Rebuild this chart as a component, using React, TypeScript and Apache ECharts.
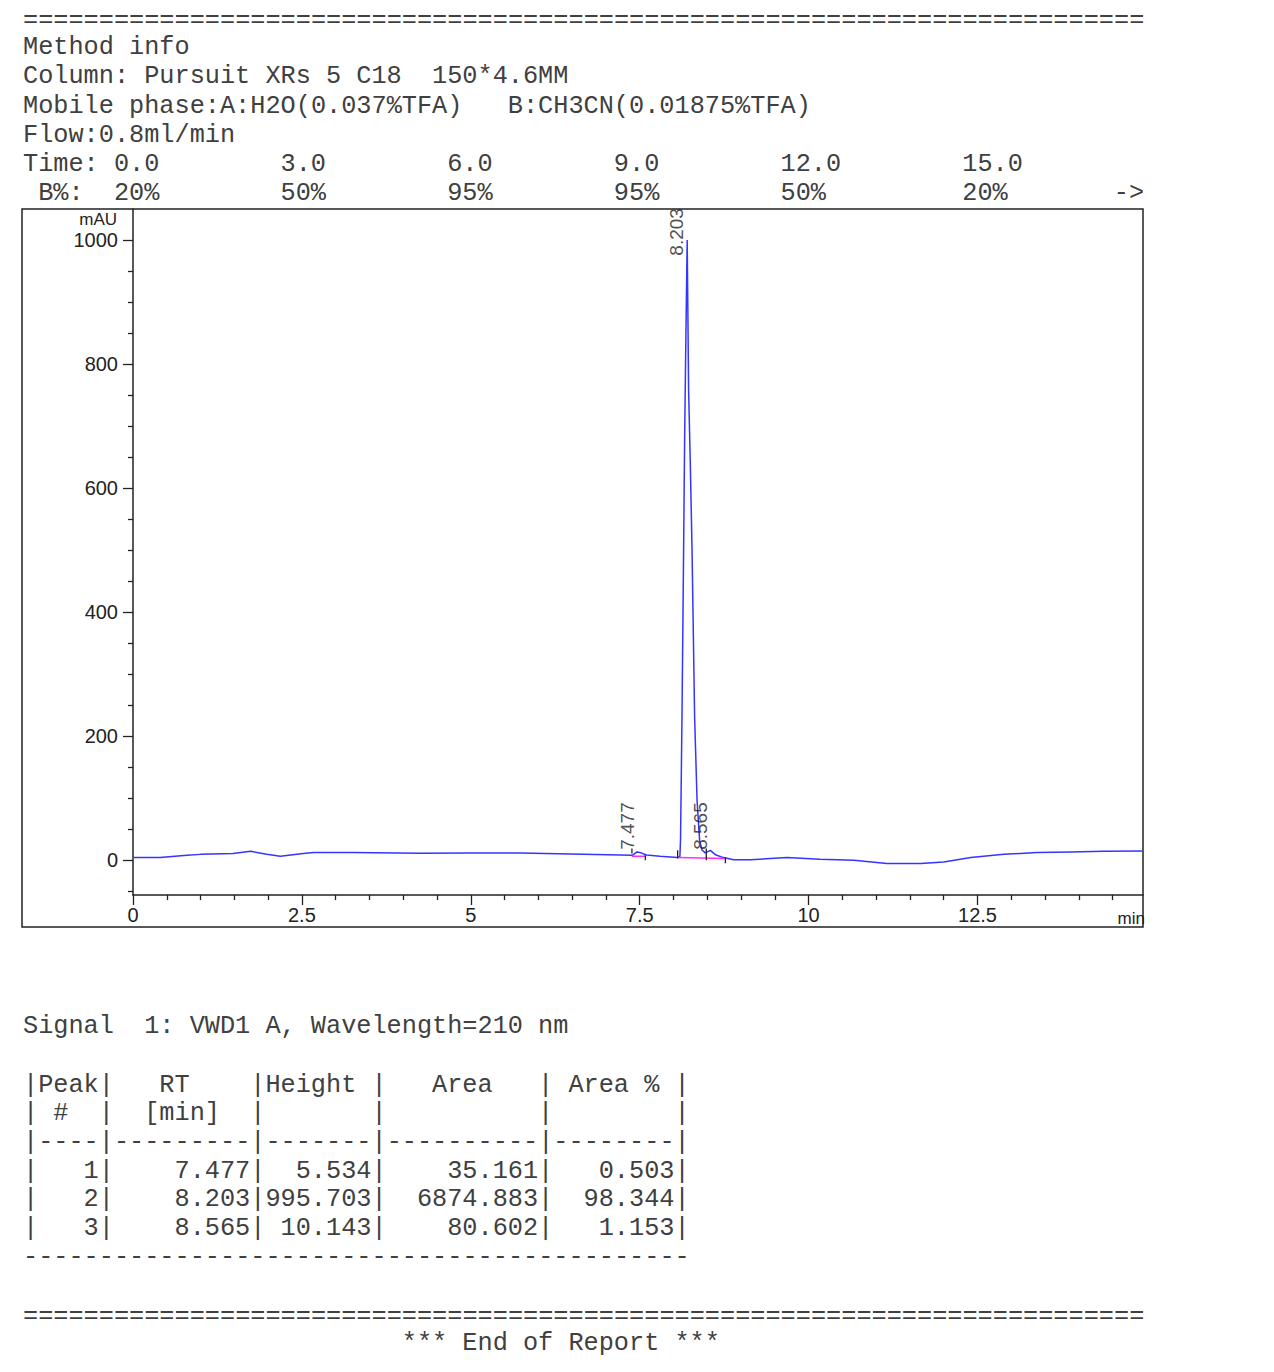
import React, { useEffect, useRef } from "react";
import * as echarts from "echarts";

// ---------------- data ----------------
const timeMin = [
  0, 0.4, 0.8, 1.0, 1.48, 1.74, 1.98, 2.18, 2.52, 2.67, 3.26, 4.25, 4.99, 5.73, 6.47, 7.21, 7.39, 7.46,
  7.52, 7.6, 7.8, 8.06, 8.095, 8.105, 8.126, 8.15, 8.165, 8.185, 8.203, 8.224, 8.249, 8.275, 8.313,
  8.349, 8.387, 8.42, 8.47, 8.545, 8.62, 8.74, 8.89, 9.14, 9.68, 10.17, 10.67, 11.16, 11.66, 12.0,
  12.4, 12.89, 13.38, 13.88, 14.37, 14.94,
];
const signalMAU = [
  4.5, 4.5, 8, 9.5, 10.8, 14.5, 9.7, 6.5, 10.8, 12.4, 12.4, 11.5, 11.8, 11.8, 10, 8.5, 8, 13.4,
  12, 8.5, 6.5, 4.5, 6, 35, 231, 500, 677, 855, 1000, 758, 640, 500, 231,
  97, 32, 17, 12, 16, 9, 4.3, 1, 1, 4.3, 1.6, 0, -5.4, -5.4, -2.7,
  4.3, 9.7, 12.4, 13.4, 14.5, 15,
];

const peakNo = [1, 2, 3];
const peakRT = [7.477, 8.203, 8.565];
const peakHeight = [5.534, 995.703, 10.143];
const peakArea = [35.161, 6874.883, 80.602];
const peakAreaPct = [0.503, 98.344, 1.153];
const peakLabelBase = [16, 974, 16];

// integration baselines [t1, v1, t2, v2]
const baselineSegs = [
  [7.385, 6.5, 7.583, 6.5],
  [8.062, 4.3, 8.768, 3],
];
// integration tick marks [t, vLow, vHigh]
const integrationTicks = [
  [7.385, 11, 19],
  [7.583, 0, 8],
  [8.062, 3, 16],
  [8.486, 0, 19],
  [8.768, -5, 5],
];

const yMajorTicks = [0, 200, 400, 600, 800, 1000];
const yMinorTicks = [-50, 50, 100, 150, 250, 300, 350, 450, 500, 550, 650, 700, 750, 850, 900, 950];
const xMajorTicks = [0, 2.5, 5, 7.5, 10, 12.5];
const xMinorTicks = [
  0.5, 1, 1.5, 2, 3, 3.5, 4, 4.5, 5.5, 6, 6.5, 7, 8, 8.5, 9, 9.5, 10.5, 11, 11.5, 12, 13, 13.5, 14, 14.5,
];

const gradientTimes = ["0.0", "3.0", "6.0", "9.0", "12.0", "15.0"];
const gradientB = ["20%", "50%", "95%", "95%", "50%", "20%"];
const gradientCols = [6, 17, 28, 39, 50, 62];

// ---------------- styling ----------------
const MONO = "'Liberation Mono', 'DejaVu Sans Mono', monospace";
const SANS = "'Liberation Sans', Arial, sans-serif";
const TEXT = "#404040";
const CW = 15.15;
const X0 = 23;
const FS = 25.25;

function putAt(buf: string[], col: number, txt: string) {
  while (buf.length < col + txt.length) buf.push(" ");
  for (let i = 0; i < txt.length; i++) buf[col + i] = txt[i];
}

function monoLine(s: string, y: number) {
  const out: any[] = [];
  const re = /\S+/g;
  let m: RegExpExecArray | null;
  while ((m = re.exec(s))) {
    out.push({
      type: "text",
      x: X0 + m.index * CW,
      y,
      silent: true,
      style: {
        text: m[0],
        fontFamily: MONO,
        fontSize: FS,
        fill: TEXT,
        textAlign: "left",
        textVerticalAlign: "middle",
      },
    });
  }
  return out;
}

function buildLines(): [string, number][] {
  const timeBuf: string[] = [];
  putAt(timeBuf, 0, "Time:");
  gradientTimes.forEach((t, i) => putAt(timeBuf, gradientCols[i], t));
  const bBuf: string[] = [];
  putAt(bBuf, 1, "B%:");
  gradientB.forEach((t, i) => putAt(bBuf, gradientCols[i], t));
  putAt(bBuf, 72, "->");

  const rows: string[] = peakNo.map(
    (n, i) =>
      "|" +
      String(n).padStart(4) +
      "|" +
      peakRT[i].toFixed(3).padStart(9) +
      "|" +
      peakHeight[i].toFixed(3).padStart(7) +
      "|" +
      peakArea[i].toFixed(3).padStart(10) +
      "|" +
      peakAreaPct[i].toFixed(3).padStart(8) +
      "|"
  );

  return [
    ["=".repeat(74), 20],
    ["Method info", 47],
    ["Column: Pursuit XRs 5 C18  150*4.6MM", 76],
    ["Mobile phase:A:H2O(0.037%TFA)   B:CH3CN(0.01875%TFA)", 106],
    ["Flow:0.8ml/min", 135],
    [timeBuf.join(""), 164],
    [bBuf.join(""), 193],
    ["Signal  1: VWD1 A, Wavelength=210 nm", 1026],
    ["|Peak|   RT    |Height |   Area   | Area % |", 1085],
    ["| #  |  [min]  |       |          |        |", 1113],
    ["|----|---------|-------|----------|--------|", 1142],
    [rows[0], 1171],
    [rows[1], 1199],
    [rows[2], 1228],
    ["-".repeat(44), 1257],
    ["=".repeat(74), 1316],
    [" ".repeat(25) + "*** End of Report ***", 1343],
  ];
}

export default function App() {
  const ref = useRef<HTMLDivElement>(null);

  useEffect(() => {
    if (!ref.current) return;
    const chart = echarts.init(ref.current, null, { renderer: "svg" });

    const textEls: any[] = [];
    buildLines().forEach(([s, y]) => textEls.push(...monoLine(s, y)));

    const axisColor = "#222";

    const segSeries = baselineSegs.map((s) => ({
      type: "line",
      data: [
        [s[0], s[1]],
        [s[2], s[3]],
      ],
      showSymbol: false,
      silent: true,
      lineStyle: { color: "#ff2cff", width: 1.5 },
      z: 3,
    }));
    const tickSeries = integrationTicks.map((t) => ({
      type: "line",
      data: [
        [t[0], t[1]],
        [t[0], t[2]],
      ],
      showSymbol: false,
      silent: true,
      lineStyle: { color: "#222", width: 1.3 },
      z: 4,
    }));

    chart.setOption({
      animation: false,
      backgroundColor: "#ffffff",
      grid: { left: 133, top: 209, width: 1010, height: 686, containLabel: false, outerBoundsMode: "none" },
      xAxis: [
        {
          type: "value",
          min: 0,
          max: 14.95,
          position: "bottom",
          axisLine: { show: true, onZero: false, lineStyle: { color: axisColor, width: 1.5 } },
          axisTick: { show: true, inside: false, length: 10, customValues: xMajorTicks, lineStyle: { color: axisColor, width: 1.3 } },
          axisLabel: {
            show: true,
            customValues: xMajorTicks,
            color: axisColor,
            fontSize: 20,
            fontFamily: SANS,
            margin: 10,
            formatter: (v: number) => String(v),
          },
          splitLine: { show: false },
        },
        {
          type: "value",
          min: 0,
          max: 14.95,
          position: "bottom",
          axisLine: { show: false, onZero: false },
          axisTick: { show: true, inside: false, length: 5, customValues: xMinorTicks, lineStyle: { color: axisColor, width: 1.3 } },
          axisLabel: { show: false },
          splitLine: { show: false },
        },
      ],
      yAxis: [
        {
          type: "value",
          min: -56,
          max: 1050,
          position: "left",
          axisLine: { show: true, onZero: false, lineStyle: { color: axisColor, width: 1.5 } },
          axisTick: { show: true, inside: false, length: 10, customValues: yMajorTicks, lineStyle: { color: axisColor, width: 1.3 } },
          axisLabel: {
            show: true,
            customValues: yMajorTicks,
            color: axisColor,
            fontSize: 20,
            fontFamily: SANS,
            margin: 15,
            formatter: (v: number) => String(v),
          },
          splitLine: { show: false },
        },
        {
          type: "value",
          min: -56,
          max: 1050,
          position: "left",
          axisLine: { show: false, onZero: false },
          axisTick: { show: true, inside: false, length: 5, customValues: yMinorTicks, lineStyle: { color: axisColor, width: 1.3 } },
          axisLabel: { show: false },
          splitLine: { show: false },
        },
      ],
      series: [
        {
          type: "line",
          name: "VWD1 A",
          data: timeMin.map((t, i) => [t, signalMAU[i]]),
          showSymbol: false,
          silent: true,
          lineStyle: { color: "#3535ff", width: 1.5 },
          z: 2,
        },
        ...segSeries,
        ...tickSeries,
        {
          type: "scatter",
          data: peakRT.map((rt, i) => [rt, peakLabelBase[i]]),
          symbol: "circle",
          symbolSize: 1,
          silent: true,
          itemStyle: { color: "transparent" },
          label: {
            show: true,
            position: [-10.5, 0],
            rotate: 90,
            align: "left",
            verticalAlign: "middle",
            fontSize: 19,
            fontFamily: SANS,
            color: "#222",
            formatter: (p: any) => Number(p.value[0]).toFixed(3),
          },
          z: 5,
        },
      ],
      graphic: [
        {
          type: "rect",
          silent: true,
          shape: { x: 22, y: 209, width: 1121, height: 718 },
          style: { fill: "none", stroke: "#222", lineWidth: 1.5 },
        },
        {
          type: "text",
          x: 117,
          y: 219,
          silent: true,
          style: { text: "mAU", fontFamily: SANS, fontSize: 17, fill: "#222", textAlign: "right", textVerticalAlign: "middle" },
        },
        {
          type: "text",
          x: 1145,
          y: 918,
          silent: true,
          style: { text: "min", fontFamily: SANS, fontSize: 17, fill: "#222", textAlign: "right", textVerticalAlign: "middle" },
        },
        ...textEls,
      ],
    });

    return () => chart.dispose();
  }, []);

  return (
    <div
      ref={ref}
      style={{ position: "absolute", left: 0, top: 0, width: 1274, height: 1372, background: "#fff" }}
    />
  );
}
